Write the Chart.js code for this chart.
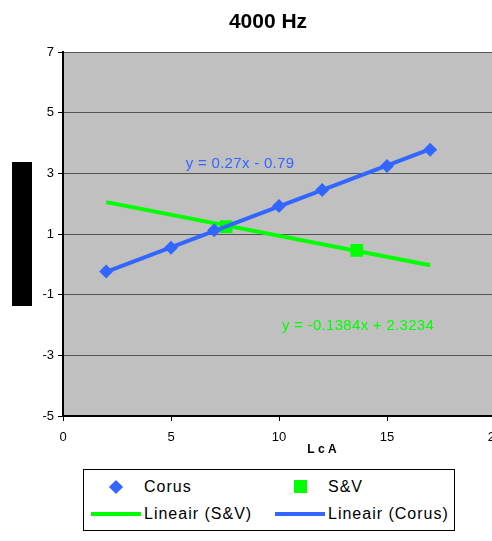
<!DOCTYPE html>
<html>
<head>
<meta charset="utf-8">
<script src="https://cdn.jsdelivr.net/npm/chart.js@4"></script>
<style>
  html, body { margin: 0; padding: 0; background: #fff; overflow: hidden; }
  #wrap { position: relative; width: 492px; height: 541px; overflow: hidden; }
  #c { position: absolute; left: 0; top: 0; }
  #legend {
    position: absolute; left: 83px; top: 469px; width: 370px; height: 60px;
    border: 1px solid #000; font-family: "Liberation Sans", Arial, sans-serif;
    font-size: 16px; letter-spacing: 1px; color: #000; background: #fff;
  }
  .item { position: absolute; white-space: nowrap; line-height: 18px; }
  .sym { position: absolute; }
</style>
</head>
<body>
<div id="wrap">
  <canvas id="c" width="536" height="541"></canvas>
  <div id="legend">
    <div class="sym" style="left:27px;top:12px;width:10px;height:10px;background:#3366ff;transform:rotate(45deg)"></div>
    <div class="item" style="left:60px;top:8px">Corus</div>
    <div class="sym" style="left:210px;top:10px;width:13px;height:13px;background:#00ff00"></div>
    <div class="item" style="left:244px;top:8px">S&amp;V</div>
    <div class="sym" style="left:7px;top:42px;width:50px;height:4px;background:#00ff00"></div>
    <div class="item" style="left:60px;top:35px">Lineair (S&amp;V)</div>
    <div class="sym" style="left:191px;top:42px;width:50px;height:4px;background:#3366ff"></div>
    <div class="item" style="left:244px;top:35px">Lineair (Corus)</div>
  </div>
</div>
<script>
var corusX = [2, 5, 7, 10, 12, 15, 17];
var corusY = [-0.24, 0.55, 1.12, 1.92, 2.45, 3.24, 3.78];
var svX = [7.55, 13.6];
var svY = [1.24, 0.46];
var trendSvX = [2, 17];
var trendSvY = [2.05, -0.03];
var trendCorusX = [2, 17];
var trendCorusY = [-0.25, 3.80];
var chartTitle = "4000 Hz";
var xTitle = "L c A";
var eqCorus = "y = 0.27x - 0.79";
var eqSv = "y = -0.1384x + 2.3234";
var yTicks = [-5, -3, -1, 1, 3, 5, 7];
var xTicks = [0, 5, 10, 15, 20];

function pts(xs, ys) {
  return xs.map(function(x, i) { return { x: x, y: ys[i] }; });
}

var FONT = "'Liberation Sans', Arial, sans-serif";

var decor = {
  id: 'decor',
  beforeDraw: function(chart) {
    var ctx = chart.ctx, a = chart.chartArea;
    ctx.save();
    ctx.fillStyle = '#c0c0c0';
    ctx.fillRect(a.left, a.top, a.right - a.left, a.bottom - a.top);
    // y-axis title block
    ctx.fillStyle = '#000';
    ctx.fillRect(12, 162, 20, 144);
    ctx.textAlign = 'center';
    ctx.textBaseline = 'middle';
    // chart title
    ctx.font = 'bold 21px ' + FONT;
    ctx.fillText(chartTitle, 268, 22);
    // x-axis title
    ctx.font = 'bold 12px ' + FONT;
    ctx.fillText(xTitle, 322, 450);
    ctx.restore();
  },
  afterDatasetsDraw: function(chart) {
    var ctx = chart.ctx;
    ctx.save();
    ctx.font = '15px ' + FONT;
    ctx.letterSpacing = '0.3px';
    ctx.textAlign = 'center';
    ctx.textBaseline = 'middle';
    ctx.fillStyle = '#3366ff';
    ctx.fillText(eqCorus, 240, 164);
    ctx.fillStyle = '#00ff00';
    ctx.fillText(eqSv, 358, 326);
    ctx.restore();
  }
};

new Chart(document.getElementById('c').getContext('2d'), {
  type: 'scatter',
  data: {
    datasets: [
      {
        label: 'Corus',
        data: pts(corusX, corusY),
        pointStyle: 'rectRot',
        pointRadius: 7,
        backgroundColor: '#3366ff',
        borderColor: '#3366ff',
        borderWidth: 0,
        order: 2
      },
      {
        label: 'S&V',
        data: pts(svX, svY),
        pointStyle: 'rect',
        pointRadius: 9,
        backgroundColor: '#00ff00',
        borderColor: '#00ff00',
        borderWidth: 0,
        order: 3
      },
      {
        label: 'Lineair (S&V)',
        type: 'line',
        data: pts(trendSvX, trendSvY),
        borderColor: '#00ff00',
        borderWidth: 4,
        pointRadius: 0,
        fill: false,
        order: 4
      },
      {
        label: 'Lineair (Corus)',
        type: 'line',
        data: pts(trendCorusX, trendCorusY),
        borderColor: '#3366ff',
        borderWidth: 4,
        pointRadius: 0,
        fill: false,
        order: 1
      }
    ]
  },
  options: {
    responsive: false,
    animation: false,
    layout: { padding: { left: 0, right: 41, top: 52, bottom: 80 } },
    plugins: {
      legend: { display: false },
      tooltip: { enabled: false },
      title: { display: false }
    },
    scales: {
      x: {
        type: 'linear',
        min: 0, max: 20,
        afterBuildTicks: function(s) { s.ticks = xTicks.map(function(v) { return { value: v }; }); },
        afterFit: function(s) { s.height = 45; },
        grid: { display: true, drawOnChartArea: false, drawTicks: true, tickLength: 5, color: '#000' },
        border: { display: true, color: '#000', width: 2 },
        ticks: { color: '#000', font: { family: FONT, size: 13 }, padding: 9, maxRotation: 0 },
        title: { display: false }
      },
      y: {
        type: 'linear',
        min: -5, max: 7,
        afterBuildTicks: function(s) { s.ticks = yTicks.map(function(v) { return { value: v }; }); },
        afterFit: function(s) { s.width = 63; },
        grid: {
          color: function(c) { return c.tick && c.tick.value === -5 ? '#000' : '#555'; },
          lineWidth: 1, drawTicks: true, tickLength: 5,
          tickColor: '#000'
        },
        border: { display: true, color: '#000', width: 2 },
        ticks: { color: '#000', font: { family: FONT, size: 13 }, padding: 4 }
      }
    }
  },
  plugins: [decor]
});
</script>
</body>
</html>
